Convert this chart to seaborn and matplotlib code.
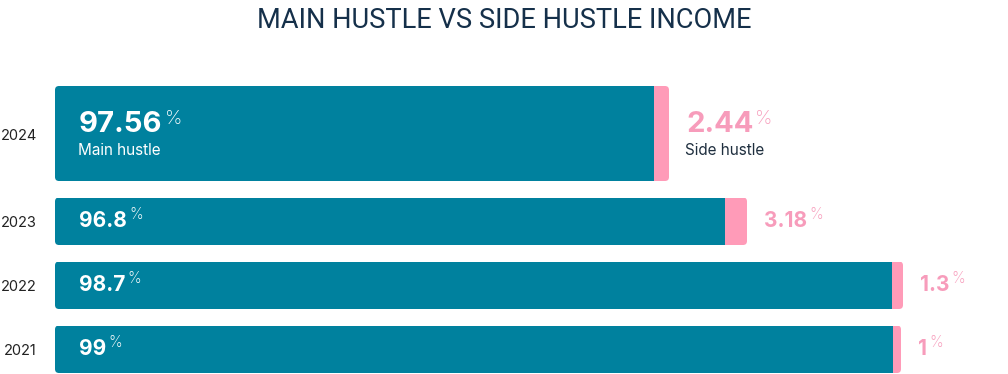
import matplotlib
matplotlib.use("Agg")
import matplotlib.pyplot as plt
import seaborn as sns
from matplotlib.patches import FancyBboxPatch

years = ["2024", "2023", "2022", "2021"]
main_pct = [97.56, 96.8, 98.7, 99]
side_pct = [2.44, 3.18, 1.3, 1]
main_txt = ["97.56", "96.8", "98.7", "99"]
side_txt = ["2.44", "3.18", "1.3", "1"]
# relative length of each bar (the bars are not all the same length)
bar_len = [614, 692, 848, 846]
row_weight = [2, 1, 1, 1]

teal = "#00819E"
pink = "#FF9BB8"
pink_txt = "#F79CBB"
navy = "#15304A"

sns.set_theme(style="white")
plt.rcParams["font.family"] = ["Inter", "DejaVu Sans"]

fig = plt.figure(figsize=(10.08, 3.74), dpi=100)
ax = fig.add_axes([0, 0, 1, 1])
ax.set_xlim(-55, 953)
ax.set_ylim(374, 0)
ax.axis("off")

unit, gap, top = 47.5, 16.5, 86
y = top
for i, yr in enumerate(years):
    h = unit * row_weight[i]
    mid = y + h / 2
    total = bar_len[i]
    m = total * main_pct[i] / 100
    s = total * side_pct[i] / 100
    clip = FancyBboxPatch((0, y), total, h, boxstyle="round,pad=0,rounding_size=4",
                          facecolor="none", edgecolor="none")
    ax.add_patch(clip)
    b1 = ax.barh(mid, m, height=h, left=0, color=teal, linewidth=0)
    b2 = ax.barh(mid, s, height=h, left=m, color=pink, linewidth=0)
    for p in list(b1) + list(b2):
        p.set_clip_path(clip)

    ax.text(-18, mid + 2, yr, ha="right", va="center", fontsize=10.5, color="#222222")

    big = i == 0
    nsize = 21 if big else 15
    psize = 14 if big else 11
    lift = 1 if big else 3
    ny = mid - 9 if big else mid
    t1 = ax.text(24, ny, main_txt[i], ha="left", va="center", fontsize=nsize,
                 fontweight="bold", color="white")
    ax.annotate("%", xy=(1, 1), xycoords=t1, xytext=(1.5, lift), textcoords="offset points",
                ha="left", va="top", fontsize=psize, color="white", fontweight="light")
    t2 = ax.text(total + 17, ny, side_txt[i], ha="left", va="center", fontsize=nsize,
                 fontweight="bold", color=pink_txt)
    ax.annotate("%", xy=(1, 1), xycoords=t2, xytext=(1.5, lift), textcoords="offset points",
                ha="left", va="top", fontsize=psize, color=pink_txt, fontweight="light")
    if big:
        ax.text(23, mid + 17, "Main hustle", ha="left", va="center", fontsize=11, color="white")
        ax.text(total + 16, mid + 17, "Side hustle", ha="left", va="center", fontsize=11,
                color="#1f2f3f")
    y += h + gap

fig.text(0.5, 0.945, "MAIN HUSTLE VS SIDE HUSTLE INCOME", ha="center", va="center",
         fontsize=19.6, color=navy, family=["Roboto", "DejaVu Sans"], fontweight="normal")

fig.savefig("out.png", dpi=100)
